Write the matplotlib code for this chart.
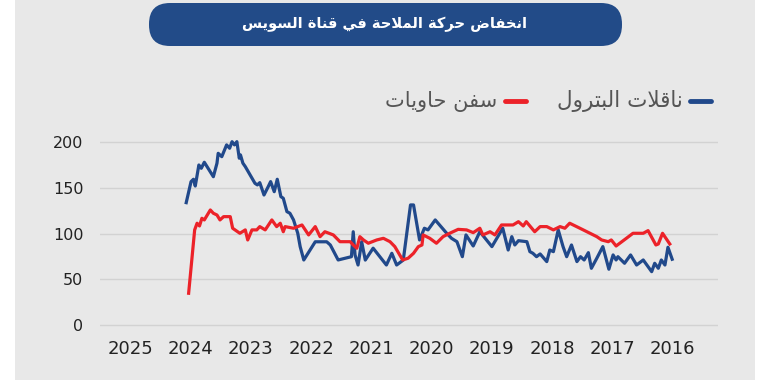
import matplotlib
matplotlib.use('Agg')
import matplotlib.pyplot as plt
from matplotlib.patches import FancyBboxPatch, Rectangle
from matplotlib.lines import Line2D

# texts
title = 'انخفاض حركة الملاحة في قناة السويس'
oil_label = 'ناقلات البترول'
box_label = 'سفن حاويات'
year_ticks = [2025, 2024, 2023, 2022, 2021, 2020, 2019, 2018, 2017, 2016]
y_ticks = [0, 50, 100, 150, 200]

# oil tankers (blue)
oil_x = [2024.07, 2023.99, 2023.95, 2023.92, 2023.86, 2023.82, 2023.77, 2023.62, 2023.56, 2023.54,
         2023.48, 2023.40, 2023.35, 2023.31, 2023.27, 2023.23, 2023.19, 2023.17, 2023.13, 2023.09,
         2022.93, 2022.89, 2022.85, 2022.78, 2022.71, 2022.67, 2022.61, 2022.56, 2022.50, 2022.46,
         2022.40, 2022.35, 2022.29, 2022.22, 2022.18, 2022.12, 2021.93, 2021.74, 2021.68, 2021.55,
         2021.33, 2021.30, 2021.27, 2021.22, 2021.16, 2021.10, 2020.97, 2020.75, 2020.66, 2020.58,
         2020.47, 2020.35, 2020.30, 2020.20, 2020.12, 2020.06, 2019.94, 2019.75, 2019.67, 2019.58,
         2019.49, 2019.43, 2019.31, 2019.20, 2019.00, 2018.82, 2018.73, 2018.67, 2018.62, 2018.56,
         2018.42, 2018.37, 2018.32, 2018.26, 2018.20, 2018.09, 2018.04, 2017.98, 2017.90, 2017.82,
         2017.76, 2017.68, 2017.59, 2017.53, 2017.47, 2017.40, 2017.35, 2017.26, 2017.16, 2017.06,
         2016.99, 2016.94, 2016.91, 2016.80, 2016.70, 2016.60, 2016.49, 2016.35, 2016.30, 2016.24,
         2016.19, 2016.13, 2016.08, 2016.01]
oil_y = [133.8, 156.8, 159.4, 152, 175, 171.4, 178, 162.2, 176.9, 187.8,
         184.1, 197, 193.3, 200.5, 197, 200.5, 182.4, 186, 177, 173.2,
         155, 153.2, 155.7, 142.2, 151.3, 156.8, 145.8, 159.4, 140.4, 138.6,
         124, 122.2, 114.9, 100.3, 85.7, 71.1, 91, 91, 87.5, 71.1,
         74.7, 102, 76.6, 65.6, 91, 71, 84, 65.6, 78.4, 65.6,
         71, 131.3, 131.3, 93, 105.8, 104, 114.9, 100.3, 94.8, 91.1,
         74.7, 98.5, 86.4, 102, 85.7, 105.8, 82, 96.6, 87.5, 92.2,
         91.1, 80.2, 78.4, 74.7, 77.7, 69.3, 82, 80.2, 104, 85.7,
         74.7, 87.5, 69.3, 74.7, 71.1, 79.1, 62, 73, 85.7, 61,
         76.6, 71.1, 74.7, 67.5, 76.6, 65.6, 71.1, 58.3, 67.5, 62,
         71.1, 65.6, 85, 71.9]

# container ships (red)
box_x = [2024.03, 2023.93, 2023.89, 2023.85, 2023.81, 2023.77, 2023.67, 2023.62, 2023.56, 2023.51,
         2023.45, 2023.34, 2023.30, 2023.18, 2023.09, 2023.05, 2022.98, 2022.90, 2022.85, 2022.76,
         2022.65, 2022.57, 2022.51, 2022.46, 2022.43, 2022.29, 2022.15, 2022.04, 2021.93, 2021.85,
         2021.77, 2021.63, 2021.52, 2021.35, 2021.30, 2021.24, 2021.19, 2021.13, 2021.05, 2020.91,
         2020.80, 2020.69, 2020.61, 2020.48, 2020.39, 2020.30, 2020.22, 2020.16, 2020.14, 2020.03,
         2019.92, 2019.81, 2019.70, 2019.56, 2019.42, 2019.31, 2019.20, 2019.15, 2019.03, 2018.95,
         2018.84, 2018.73, 2018.65, 2018.56, 2018.48, 2018.43, 2018.29, 2018.20, 2018.09, 2017.98,
         2017.87, 2017.79, 2017.71, 2017.54, 2017.26, 2017.18, 2017.07, 2017.02, 2016.94, 2016.77,
         2016.66, 2016.49, 2016.41, 2016.28, 2016.24, 2016.17, 2016.05]
box_y = [34.7, 104, 111.3, 108.3, 116.7, 114.9, 125.8, 122.2, 120.3, 114.9,
         118.5, 118.5, 105.8, 100.3, 104, 93, 104, 104, 107.6, 104,
         114.9, 107.6, 111.3, 102, 107.6, 105.8, 109.4, 98.5, 107.6, 96.6,
         102, 98.5, 91.1, 91.1, 87.5, 83.9, 96.6, 93, 89.4, 93,
         94.8, 91.1, 85.7, 71.1, 73, 78.4, 85.7, 87.5, 98.5, 94.8,
         89.4, 96.6, 100.3, 104.6, 104, 101, 105.8, 98.5, 102, 98.5,
         109.4, 109.4, 109.4, 113, 108.3, 113, 102, 107.6, 107.6, 104,
         107.6, 105.8, 111.3, 105.8, 96.6, 93, 91.1, 93, 86.4, 94.8,
         100.3, 100.3, 103.2, 87.5, 88.6, 100.3, 88.6]

BLUE = '#21498b'
RED = '#ec2229'

# matplotlib has no arabic shaping, so use presentation forms and reverse
FORMS = {'ا': (0xFE8D, False), 'ب': (0xFE8F, True), 'ة': (0xFE93, False), 'ت': (0xFE95, True),
         'ح': (0xFEA1, True), 'خ': (0xFEA5, True), 'ر': (0xFEAD, False), 'س': (0xFEB1, True),
         'ض': (0xFEBD, True), 'ف': (0xFED1, True), 'ق': (0xFED5, True), 'ك': (0xFED9, True),
         'ل': (0xFEDD, True), 'م': (0xFEE1, True), 'ن': (0xFEE5, True), 'و': (0xFEED, False),
         'ي': (0xFEF1, True), 'LA': (0xFEFB, False)}


def shape(text):
    chars = []
    i = 0
    while i < len(text):
        if text[i] == 'ل' and i + 1 < len(text) and text[i + 1] == 'ا':
            chars.append('LA')
            i += 2
        else:
            chars.append(text[i])
            i += 1
    out = []
    for k, c in enumerate(chars):
        if c not in FORMS:
            out.append(c)
            continue
        base, dual = FORMS[c]
        prev = chars[k - 1] if k > 0 else None
        nxt = chars[k + 1] if k + 1 < len(chars) else None
        jp = prev in FORMS and FORMS[prev][1]
        jn = dual and nxt in FORMS
        if jp and jn:
            code = base + 3
        elif jp:
            code = base + 1
        elif jn:
            code = base + 2
        else:
            code = base
        out.append(chr(code))
    return ''.join(out[::-1])


fig = plt.figure(figsize=(7.7, 3.8), dpi=100)
fig.patch.set_facecolor('white')
fig.patches.append(Rectangle((0.15, 0), 7.4, 3.8, transform=fig.dpi_scale_trans,
                             facecolor='#e8e8e8', edgecolor='none', zorder=-5))

# title banner (inches)
fig.patches.append(FancyBboxPatch((1.49, 3.34), 4.73, 0.43,
                                  boxstyle='round,pad=0,rounding_size=0.21',
                                  transform=fig.dpi_scale_trans, facecolor='#224b88',
                                  edgecolor='none', zorder=1))
fig.text(385 / 770, 1 - 24 / 380, shape(title), color='white', fontsize=10.5,
         fontweight='bold', ha='center', va='center', family='DejaVu Sans', zorder=2)

# legend
ly = 1 - 101 / 380
fig.lines.append(Line2D([690 / 770, 711 / 770], [ly, ly], transform=fig.transFigure,
                        color=BLUE, lw=3.5, solid_capstyle='round'))
fig.text(683 / 770, ly, shape(oil_label), color='#555555', fontsize=15.5,
         ha='right', va='center', family='DejaVu Sans')
fig.lines.append(Line2D([505 / 770, 526 / 770], [ly, ly], transform=fig.transFigure,
                        color=RED, lw=3.5, solid_capstyle='round'))
fig.text(497 / 770, ly, shape(box_label), color='#555555', fontsize=15,
         ha='right', va='center', family='DejaVu Sans')

ax = fig.add_axes([100 / 770, 0.1376, 618 / 770, 0.5124])
ax.set_facecolor('none')
ax.plot(oil_x, oil_y, color=BLUE, lw=2.3, solid_joinstyle='round', zorder=3)
ax.plot(box_x, box_y, color=RED, lw=2.3, solid_joinstyle='round', zorder=3)
ax.set_xlim(2025.5, 2015.25)
ax.set_ylim(-3, 210)
ax.set_yticks(y_ticks)
ax.set_xticks(year_ticks)
ax.set_xticklabels([str(y) for y in year_ticks], fontsize=13, color='#222222',
                   family=['Liberation Sans Narrow', 'DejaVu Sans'])
ax.set_yticklabels([str(v) for v in y_ticks], fontsize=11.5, color='#222222')
ax.tick_params(axis='both', length=0)
ax.tick_params(axis='x', pad=9)
ax.tick_params(axis='y', pad=12)
ax.grid(axis='y', color='#d2d2d2', lw=1)
ax.set_axisbelow(True)
for s in ax.spines.values():
    s.set_visible(False)

fig.savefig('out.png', dpi=100)
